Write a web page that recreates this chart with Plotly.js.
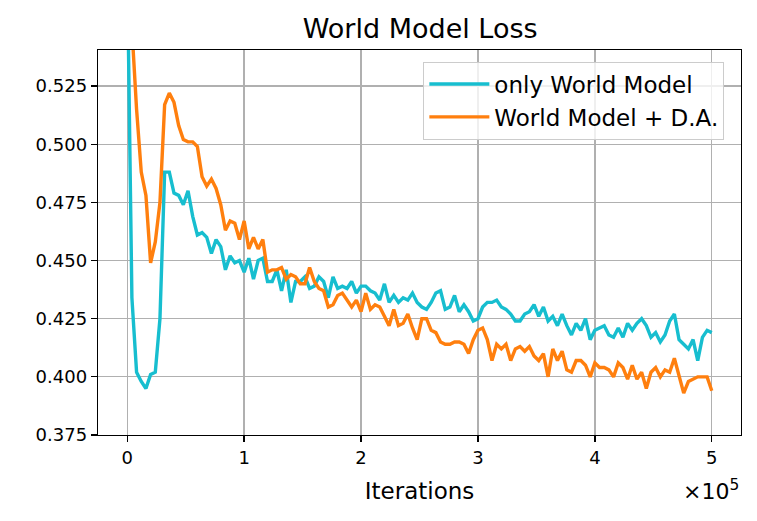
<!DOCTYPE html>
<html>
<head>
<meta charset="utf-8">
<script src="https://cdn.plot.ly/plotly-3.0.1.min.js"></script>
<style>
  html, body { margin: 0; padding: 0; background: #fff; }
  #chart { width: 757px; height: 521px; }
</style>
</head>
<body>
<div id="chart"></div>
<script>
// iterations in thousands
const iterK = [0,4,8,12,16,20,24,28,32,36,40,44,48,52,56,60,64,68,72,76,80,84,88,92,96,100,104,108,112,116,120,124,128,132,136,140,144,148,152,156,160,164,168,172,176,180,184,188,192,196,200,204,208,212,216,220,224,228,232,236,240,244,248,252,256,260,264,268,272,276,280,284,288,292,296,300,304,308,312,316,320,324,328,332,336,340,344,348,352,356,360,364,368,372,376,380,384,388,392,396,400,404,408,412,416,420,424,428,432,436,440,444,448,452,456,460,464,468,472,476,480,484,488,492,496,500];

const onlyWorldModel = [
  0.58, 0.434, 0.402, 0.398, 0.395, 0.401, 0.402, 0.425, 0.488, 0.488, 0.479,
  0.478, 0.474, 0.480, 0.469, 0.461, 0.462, 0.460, 0.453, 0.459, 0.456, 0.446,
  0.452, 0.449, 0.450, 0.445, 0.451, 0.442, 0.450, 0.451, 0.441,
  0.441, 0.446, 0.437, 0.446, 0.432, 0.441, 0.441, 0.443, 0.438, 0.439,
  0.443, 0.441, 0.434, 0.443, 0.438, 0.439, 0.438, 0.441, 0.436, 0.439,
  0.439, 0.437, 0.436, 0.433, 0.440, 0.432, 0.435, 0.432, 0.434, 0.433, 0.436,
  0.432, 0.430, 0.429, 0.432, 0.436, 0.437, 0.429, 0.430, 0.435, 0.428,
  0.431, 0.428, 0.424, 0.425, 0.430, 0.432, 0.432, 0.433, 0.430, 0.429, 0.427,
  0.424, 0.424, 0.427, 0.428, 0.431, 0.426, 0.430, 0.424, 0.426, 0.422, 0.427,
  0.422, 0.418, 0.423, 0.420, 0.425, 0.416, 0.420, 0.421, 0.422, 0.418,
  0.417, 0.421, 0.417, 0.423, 0.420, 0.423, 0.425, 0.422,
  0.417, 0.419, 0.415, 0.418, 0.424, 0.427, 0.416, 0.414, 0.412, 0.416,
  0.407, 0.417, 0.420, 0.419
];

const worldModelDA = [
  0.60, 0.55, 0.515, 0.488, 0.478, 0.449, 0.458, 0.475, 0.517, 0.522, 0.518,
  0.508, 0.502, 0.501, 0.501, 0.499, 0.486, 0.482, 0.485, 0.481, 0.474, 0.463,
  0.467, 0.466, 0.459, 0.467, 0.455, 0.460, 0.455, 0.459, 0.445,
  0.446, 0.446, 0.447, 0.442, 0.444, 0.443, 0.440, 0.440, 0.447, 0.441,
  0.438, 0.437, 0.430, 0.431, 0.435, 0.436, 0.433, 0.430, 0.433, 0.428,
  0.436, 0.429, 0.431, 0.430, 0.426, 0.422, 0.429, 0.422, 0.423, 0.427, 0.421,
  0.416, 0.425, 0.425, 0.420, 0.419, 0.415, 0.414, 0.414, 0.415, 0.415,
  0.414, 0.410, 0.416, 0.420, 0.421, 0.416, 0.407, 0.414, 0.412, 0.414, 0.407,
  0.412, 0.413, 0.411, 0.413, 0.409, 0.407, 0.410, 0.400, 0.412, 0.407, 0.411,
  0.403, 0.402, 0.407, 0.407, 0.405, 0.400, 0.406, 0.404, 0.404, 0.403,
  0.400, 0.406, 0.404, 0.399, 0.405, 0.399, 0.402, 0.395,
  0.402, 0.404, 0.400, 0.403, 0.402, 0.408, 0.400, 0.393, 0.398, 0.399,
  0.400, 0.400, 0.400, 0.394
];

const xTicks = [0, 100000, 200000, 300000, 400000, 500000];
const xTickText = ['0', '1', '2', '3', '4', '5'];
const yTicks = [0.375, 0.400, 0.425, 0.450, 0.475, 0.500, 0.525];
const yTickText = ['0.375', '0.400', '0.425', '0.450', '0.475', '0.500', '0.525'];

const iters = iterK.map((k) => k * 1000);
const FONT = 'DejaVu Sans, sans-serif';

const data = [
  {
    x: iters,
    y: onlyWorldModel,
    name: 'only World Model',
    mode: 'lines',
    line: { color: '#17becf', width: 3.4 },
  },
  {
    x: iters,
    y: worldModelDA,
    name: 'World Model + D.A.',
    mode: 'lines',
    line: { color: '#ff7f0e', width: 3.4 },
  },
];

const axisCommon = {
  showline: true,
  mirror: true,
  linecolor: '#000',
  linewidth: 1.3,
  ticks: 'outside',
  ticklen: 6,
  tickwidth: 1.3,
  tickcolor: '#000',
  showgrid: true,
  gridcolor: '#b0b0b0',
  gridwidth: 1.3,
  zeroline: false,
  tickfont: { family: FONT, size: 18, color: '#000' },
};

const layout = {
  width: 757,
  height: 521,
  margin: { l: 98, r: 16, t: 50, b: 86 },
  paper_bgcolor: '#fff',
  plot_bgcolor: '#fff',
  font: { family: FONT, color: '#000' },
  title: {
    text: 'World Model Loss',
    font: { family: FONT, size: 27, color: '#000' },
    x: 0.555,
    xanchor: 'center',
    y: 0.945,
    yanchor: 'middle',
  },
  xaxis: Object.assign({}, axisCommon, {
    range: [-25000, 525000],
    tickvals: xTicks,
    ticktext: xTickText,
    title: { text: 'Iterations', font: { family: FONT, size: 23, color: '#000' }, standoff: 16 },
  }),
  yaxis: Object.assign({}, axisCommon, {
    range: [0.375, 0.5405],
    tickvals: yTicks,
    ticktext: yTickText,
  }),
  showlegend: true,
  legend: {
    x: 0.506,
    y: 0.97,
    xanchor: 'left',
    yanchor: 'top',
    bgcolor: 'rgba(255,255,255,0.8)',
    bordercolor: '#cccccc',
    borderwidth: 1,
    itemwidth: 60,
    font: { family: FONT, size: 23, color: '#000' },
  },
  annotations: [
    {
      text: '×10<sup>5</sup>',
      xref: 'paper',
      yref: 'paper',
      x: 1.0,
      y: -0.143,
      xanchor: 'right',
      yanchor: 'middle',
      showarrow: false,
      font: { family: FONT, size: 22, color: '#000' },
    },
  ],
};

Plotly.newPlot('chart', data, layout, { displayModeBar: false, staticPlot: true });
</script>
</body>
</html>
